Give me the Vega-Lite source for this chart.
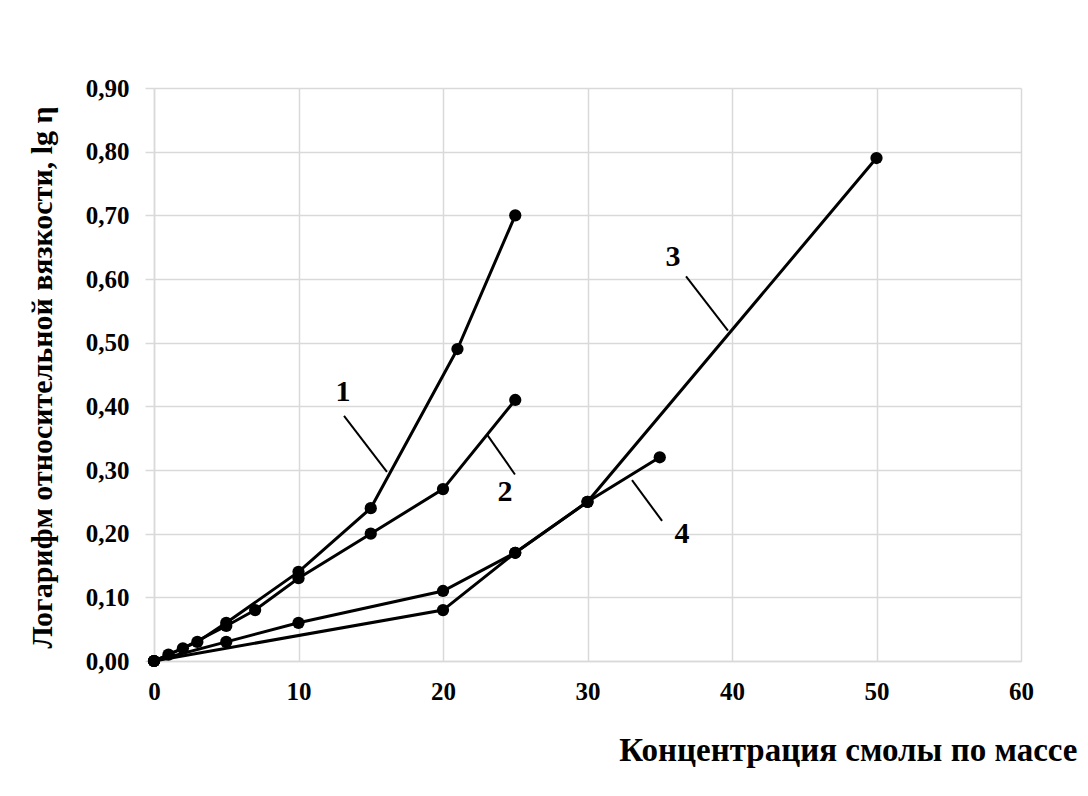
{
  "$schema": "https://vega.github.io/schema/vega-lite/v6.json",
  "width": 867,
  "height": 573,
  "autosize": {"type": "none"},
  "padding": {"left": 154, "top": 88, "right": 67, "bottom": 135},
  "background": "white",
  "datasets": {
    "curves": [
      {"series": "1", "c": 0, "v": 0.0},
      {"series": "1", "c": 1, "v": 0.01},
      {"series": "1", "c": 3, "v": 0.03},
      {"series": "1", "c": 5, "v": 0.06},
      {"series": "1", "c": 10, "v": 0.14},
      {"series": "1", "c": 15, "v": 0.24},
      {"series": "1", "c": 21, "v": 0.49},
      {"series": "1", "c": 25, "v": 0.70},
      {"series": "2", "c": 0, "v": 0.0},
      {"series": "2", "c": 2, "v": 0.02},
      {"series": "2", "c": 5, "v": 0.055},
      {"series": "2", "c": 7, "v": 0.08},
      {"series": "2", "c": 10, "v": 0.13},
      {"series": "2", "c": 15, "v": 0.20},
      {"series": "2", "c": 20, "v": 0.27},
      {"series": "2", "c": 25, "v": 0.41},
      {"series": "3", "c": 0, "v": 0.0},
      {"series": "3", "c": 20, "v": 0.08},
      {"series": "3", "c": 25, "v": 0.17},
      {"series": "3", "c": 30, "v": 0.25},
      {"series": "3", "c": 50, "v": 0.79},
      {"series": "4", "c": 0, "v": 0.0},
      {"series": "4", "c": 5, "v": 0.03},
      {"series": "4", "c": 10, "v": 0.06},
      {"series": "4", "c": 20, "v": 0.11},
      {"series": "4", "c": 25, "v": 0.17},
      {"series": "4", "c": 30, "v": 0.25},
      {"series": "4", "c": 35, "v": 0.32}
    ],
    "callouts": [
      {"label": "1", "tx": 13.08, "ty": 0.422, "x1": 13.15, "y1": 0.385, "x2": 16.12, "y2": 0.297},
      {"label": "2", "tx": 24.29, "ty": 0.265, "x1": 23.04, "y1": 0.356, "x2": 24.98, "y2": 0.293},
      {"label": "3", "tx": 35.92, "ty": 0.634, "x1": 36.82, "y1": 0.604, "x2": 39.72, "y2": 0.519},
      {"label": "4", "tx": 36.54, "ty": 0.200, "x1": 33.08, "y1": 0.284, "x2": 35.16, "y2": 0.220}
    ]
  },
  "layer": [
    {
      "data": {"name": "curves"},
      "mark": {"type": "line", "color": "black", "strokeWidth": 3, "clip": false},
      "encoding": {
        "x": {
          "field": "c",
          "type": "quantitative",
          "scale": {"domain": [0, 60], "nice": false, "zero": false},
          "axis": {
            "values": [0, 10, 20, 30, 40, 50, 60],
            "title": "Концентрация смолы по массе",
            "titleX": 923,
            "titleY": 89,
            "titleAlign": "right",
            "titleAnchor": null,
            "titleBaseline": "middle",
            "titleFontSize": 33,
            "labelFontSize": 25,
            "labelPadding": 18,
            "labelFlush": false,
            "labelOverlap": false,
            "tickSize": 0,
            "ticks": false,
            "grid": true
          }
        },
        "y": {
          "field": "v",
          "type": "quantitative",
          "scale": {"domain": [0, 0.9], "nice": false, "zero": false},
          "axis": {
            "values": [0, 0.1, 0.2, 0.3, 0.4, 0.5, 0.6, 0.7, 0.8, 0.9],
            "labelExpr": "replace(format(datum.value, '.2f'), '.', ',')",
            "title": "Логарифм относительной вязкости, lg η",
            "titleX": -112,
            "titleY": 289,
            "titleAngle": -90,
            "titleAlign": "center",
            "titleAnchor": null,
            "titleBaseline": "middle",
            "titleFontSize": 30,
            "labelFontSize": 25,
            "labelPadding": 16,
            "labelFlush": false,
            "labelOverlap": false,
            "tickSize": 9,
            "grid": true
          }
        },
        "detail": {"field": "series"}
      }
    },
    {
      "data": {"name": "curves"},
      "mark": {"type": "point", "filled": true, "color": "black", "opacity": 1, "size": 150, "clip": false},
      "encoding": {
        "x": {"field": "c", "type": "quantitative"},
        "y": {"field": "v", "type": "quantitative"}
      }
    },
    {
      "data": {"name": "callouts"},
      "mark": {"type": "rule", "color": "black", "strokeWidth": 2},
      "encoding": {
        "x": {"field": "x1", "type": "quantitative"},
        "y": {"field": "y1", "type": "quantitative"},
        "x2": {"field": "x2"},
        "y2": {"field": "y2"}
      }
    },
    {
      "data": {"name": "callouts"},
      "mark": {"type": "text", "font": "Liberation Serif", "fontWeight": "bold", "fontSize": 30, "color": "black", "baseline": "middle", "align": "center"},
      "encoding": {
        "x": {"field": "tx", "type": "quantitative"},
        "y": {"field": "ty", "type": "quantitative"},
        "text": {"field": "label"}
      }
    }
  ],
  "config": {
    "view": {"stroke": null},
    "font": "Liberation Serif",
    "axis": {
      "labelFont": "Liberation Serif",
      "labelFontWeight": "bold",
      "labelColor": "black",
      "titleFont": "Liberation Serif",
      "titleFontWeight": "bold",
      "titleColor": "black",
      "gridColor": "#d9d9d9",
      "gridWidth": 1.5,
      "domainColor": "#d9d9d9",
      "domainWidth": 1.5,
      "tickColor": "#d9d9d9",
      "tickWidth": 1.5
    }
  }
}
